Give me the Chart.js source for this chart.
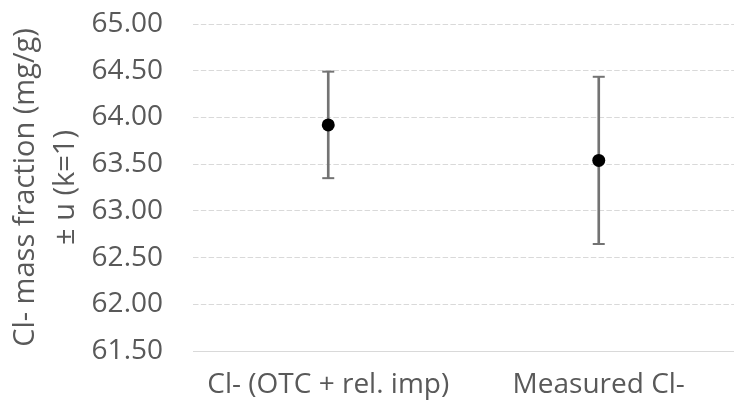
<!DOCTYPE html>
<html>
<head>
<meta charset="utf-8">
<script src="https://cdn.jsdelivr.net/npm/chart.js@4/dist/chart.umd.min.js"></script>
<style>
  html, body { margin: 0; padding: 0; background: #ffffff; }
  #wrap { width: 734px; height: 408px; }
</style>
</head>
<body>
<div id="wrap"><canvas id="c" width="734" height="408"></canvas></div>
<script>
// ---- data ----
const categories = ['Cl- (OTC + rel. imp)', 'Measured Cl-'];
const means = [63.92, 63.54];
const uncertainty = [0.57, 0.895];
const yTickValues = [61.5, 62.0, 62.5, 63.0, 63.5, 64.0, 64.5, 65.0];
const yTitle = ['Cl- mass fraction (mg/g)', '± u (k=1)'];

const lows = means.map((m, i) => m - uncertainty[i]);
const highs = means.map((m, i) => m + uncertainty[i]);
const ranges = means.map((m, i) => [lows[i], highs[i]]);

const FONT = 'Open Sans';
const TXT = '#595959';
const ERR = '#737373';

new Chart(document.getElementById('c'), {
  type: 'bar',
  data: {
    labels: categories,
    datasets: [
      {
        type: 'bar',
        data: ranges,
        backgroundColor: ERR,
        borderWidth: 0,
        barThickness: 2,
        order: 3
      },
      {
        type: 'line',
        data: highs,
        showLine: false,
        pointStyle: 'line',
        pointRadius: 6,
        pointBorderWidth: 2,
        pointBorderColor: ERR,
        borderColor: ERR,
        order: 2
      },
      {
        type: 'line',
        data: lows,
        showLine: false,
        pointStyle: 'line',
        pointRadius: 6,
        pointBorderWidth: 2,
        pointBorderColor: ERR,
        borderColor: ERR,
        order: 2
      },
      {
        type: 'line',
        data: means,
        showLine: false,
        pointStyle: 'circle',
        pointRadius: 6.5,
        pointBorderWidth: 0,
        pointBackgroundColor: '#000000',
        borderColor: '#000000',
        order: 1
      }
    ]
  },
  options: {
    responsive: false,
    animation: false,
    events: [],
    layout: { autoPadding: false, padding: { top: 24, right: 0, bottom: 0, left: 6 } },
    plugins: {
      legend: { display: false },
      tooltip: { enabled: false }
    },
    scales: {
      x: {
        grid: { display: false, drawTicks: false },
        border: { display: true, color: '#d9d9d9', width: 1 },
        ticks: {
          color: TXT,
          font: { family: FONT, size: 28 },
          padding: 17,
          maxRotation: 0,
          autoSkip: false
        },
        afterFit: (s) => {
          s.paddingLeft = 0; s.paddingRight = 0;
          s.height = 57;
        }
      },
      y: {
        min: 61.5,
        max: 65,
        afterBuildTicks: (scale) => { scale.ticks = yTickValues.map(v => ({ value: v })); },
        grid: { color: '#d9d9d9', lineWidth: 1, drawTicks: false },
        border: { display: false, dash: [5.5, 2.3] },
        ticks: {
          color: TXT,
          font: { family: FONT, size: 28 },
          padding: 30,
          callback: (v) => Number(v).toFixed(2)
        },
        title: {
          display: true,
          text: yTitle,
          color: TXT,
          font: { family: FONT, size: 29, lineHeight: 1.38 },
          padding: { top: 0, bottom: 4 }
        },
        afterFit: (s) => {
          s.width = 187;
          s.paddingTop = 0; s.paddingBottom = 0;
        }
      }
    }
  }
});
</script>
</body>
</html>
